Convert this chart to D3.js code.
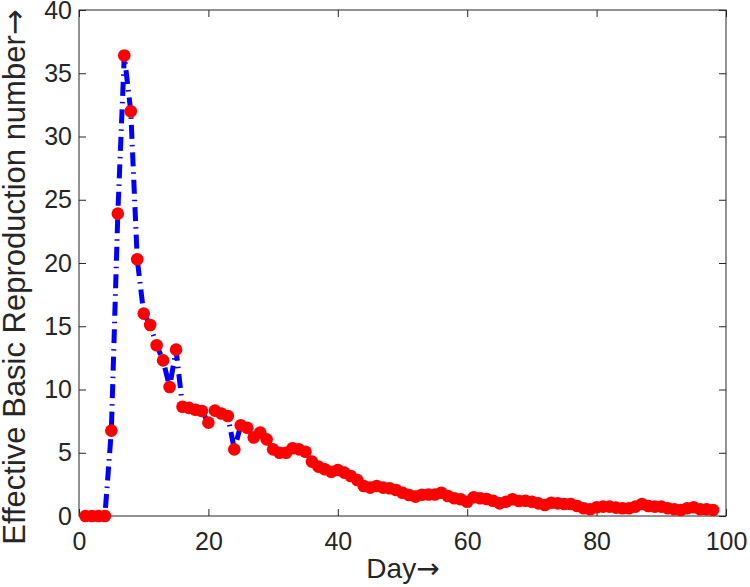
<!DOCTYPE html>
<html>
<head>
<meta charset="utf-8">
<script src="https://cdn.jsdelivr.net/npm/d3@7"></script>
<style>
  body { margin: 0; background: #fff; }
  text { font-family: "Liberation Sans", Arial, sans-serif; fill: #262626; }
  .arrow { font-family: "DejaVu Sans", sans-serif; }
</style>
</head>
<body>
<svg id="chart" width="750" height="587"></svg>
<script>
// days 1..98 and the effective reproduction number
const days = d3.range(1, 99);
const rValues = [
  0, 0, 0, 0, 6.75, 23.9, 36.4, 32.0, 20.3, 16.0,
  15.1, 13.5, 12.3, 10.2, 13.15, 8.64, 8.55, 8.4, 8.3, 7.38,
  8.33, 8.1, 7.9, 5.27, 7.17, 6.98, 6.2, 6.6, 6.06, 5.27,
  5.0, 5.0, 5.35, 5.27, 5.08, 4.3, 3.9, 3.69, 3.5, 3.64,
  3.43, 3.16, 2.85, 2.37, 2.24, 2.37, 2.24, 2.19, 2.06, 1.84,
  1.66, 1.53, 1.68, 1.7, 1.7, 1.84, 1.58, 1.4, 1.32, 1.13,
  1.48, 1.4, 1.34, 1.21, 1.0, 1.13, 1.32, 1.19, 1.21, 1.13,
  1.0, 0.87, 1.05, 1.0, 0.95, 0.95, 0.79, 0.61, 0.53, 0.69,
  0.74, 0.74, 0.66, 0.61, 0.61, 0.74, 0.95, 0.79, 0.74, 0.74,
  0.61, 0.53, 0.47, 0.61, 0.69, 0.53, 0.53, 0.47
];
const xTicks = [0, 20, 40, 60, 80, 100];
const yTicks = [0, 5, 10, 15, 20, 25, 30, 35, 40];

const data = days.map((d, i) => ({ day: d, r: rValues[i] }));

const svg = d3.select('#chart');
const pLeft = 79, pRight = 726, pTop = 10, pBottom = 516;

const x = d3.scaleLinear().domain([0, 100]).range([pLeft, pRight]);
const y = d3.scaleLinear().domain([0, 40]).range([pBottom, pTop]);

const axisColor = '#262626';
const tickLen = 7;

// box
svg.append('rect')
  .attr('x', pLeft).attr('y', pTop)
  .attr('width', pRight - pLeft).attr('height', pBottom - pTop)
  .attr('fill', 'none').attr('stroke', axisColor).attr('stroke-width', 1);

// axes with inward ticks
const xAxis = svg.append('g').attr('transform', `translate(0,${pBottom})`)
  .call(d3.axisBottom(x).tickValues(xTicks).tickSizeInner(-tickLen).tickSizeOuter(0).tickPadding(16));
const yAxis = svg.append('g').attr('transform', `translate(${pLeft},0)`)
  .call(d3.axisLeft(y).tickValues(yTicks).tickSizeInner(-tickLen).tickSizeOuter(0).tickPadding(7));
const xTop = svg.append('g').attr('transform', `translate(0,${pTop})`)
  .call(d3.axisTop(x).tickValues(xTicks).tickSizeInner(-tickLen).tickSizeOuter(0).tickFormat(''));
const yRight = svg.append('g').attr('transform', `translate(${pRight},0)`)
  .call(d3.axisRight(y).tickValues(yTicks).tickSizeInner(-tickLen).tickSizeOuter(0).tickFormat(''));

[xAxis, yAxis, xTop, yRight].forEach(g => {
  g.select('.domain').remove();
  g.selectAll('line').attr('stroke', axisColor);
  g.selectAll('text').attr('font-size', 25).attr('fill', axisColor)
    .attr('font-family', '"Liberation Sans", Arial, sans-serif');
});

// line
const line = d3.line().x(d => x(d.day)).y(d => y(d.r));
svg.append('path')
  .datum(data)
  .attr('d', line)
  .attr('fill', 'none')
  .attr('stroke', '#0000ff')
  .attr('stroke-width', 5)
  .attr('stroke-dasharray', '14,6,1.5,6');

// markers
svg.append('g').selectAll('circle')
  .data(data)
  .enter()
  .append('circle')
  .attr('cx', d => x(d.day))
  .attr('cy', d => y(d.r))
  .attr('r', 6.3)
  .attr('fill', '#ff0000');

// labels
const xl = svg.append('text')
  .attr('x', 403)
  .attr('y', 578)
  .attr('text-anchor', 'middle')
  .attr('font-size', 28)
  .text('Day');
xl.append('tspan').attr('class', 'arrow').text('\u2192');

const yl = svg.append('text')
  .attr('transform', `translate(25,277) rotate(-90)`)
  .attr('text-anchor', 'middle')
  .attr('font-size', 31)
  .text('Effective Basic Reproduction number');
yl.append('tspan').attr('class', 'arrow').text('\u2192');
</script>
</body>
</html>
